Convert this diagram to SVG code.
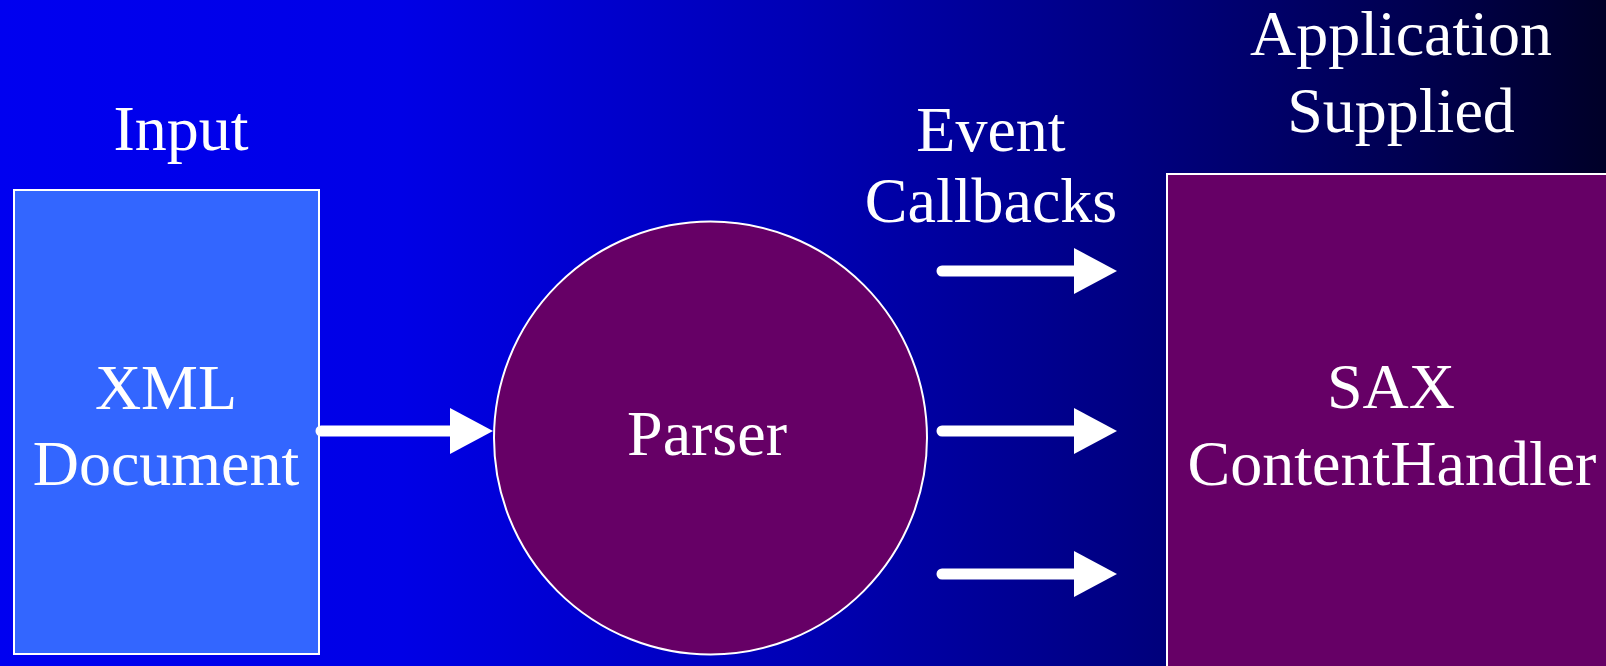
<svg xmlns="http://www.w3.org/2000/svg" width="1606" height="666" viewBox="0 0 1606 666">
<defs>
<linearGradient id="bg" x1="0" y1="0" x2="1606" y2="0" gradientUnits="userSpaceOnUse">
<stop offset="0" stop-color="#0000F0"/>
<stop offset="0.25" stop-color="#0000E6"/>
<stop offset="0.5" stop-color="#0000B4"/>
<stop offset="0.7" stop-color="#000082"/>
<stop offset="0.88" stop-color="#000050"/>
<stop offset="1" stop-color="#000028"/>
</linearGradient>
<marker id="head" markerUnits="userSpaceOnUse" markerWidth="44" markerHeight="46" refX="0" refY="23" orient="auto">
<path d="M0,0 L43,23 L0,46 Z" fill="#FFFFFF"/>
</marker>
<style>
.t{font-family:"Liberation Serif","Times New Roman",serif;font-size:64px;fill:#FFFFFF;text-anchor:middle}
.c{stroke:#FFFFFF;stroke-width:11;stroke-linecap:round;fill:none}
.n{stroke:#FFFFFF;stroke-width:2}
</style>
</defs>
<rect x="0" y="0" width="1606" height="666" fill="url(#bg)"/>
<text class="t" x="181" y="150">Input</text>
<text class="t" x="991" y="151">Event</text>
<text class="t" x="991" y="222">Callbacks</text>
<text class="t" x="1401" y="55">Application</text>
<text class="t" x="1401" y="132">Supplied</text>
<g id="xml-document">
<rect class="n" x="14" y="190" width="305" height="464" fill="#3366FF"/>
<text class="t" x="166" y="409">XML</text>
<text class="t" x="166" y="485">Document</text>
</g>
<g id="parser">
<circle class="n" cx="710.5" cy="438" r="216.5" fill="#660066"/>
<text class="t" x="707" y="455">Parser</text>
</g>
<g id="content-handler">
<rect class="n" x="1167" y="174" width="460" height="520" fill="#660066"/>
<text class="t" x="1391" y="408">SAX</text>
<text class="t" x="1392" y="485">ContentHandler</text>
</g>
<g id="connectors">
<line class="c" x1="321" y1="431" x2="450" y2="431" marker-end="url(#head)"/>
<line class="c" x1="942" y1="271" x2="1074" y2="271" marker-end="url(#head)"/>
<line class="c" x1="942" y1="431" x2="1074" y2="431" marker-end="url(#head)"/>
<line class="c" x1="942" y1="574" x2="1074" y2="574" marker-end="url(#head)"/>
</g>
</svg>
